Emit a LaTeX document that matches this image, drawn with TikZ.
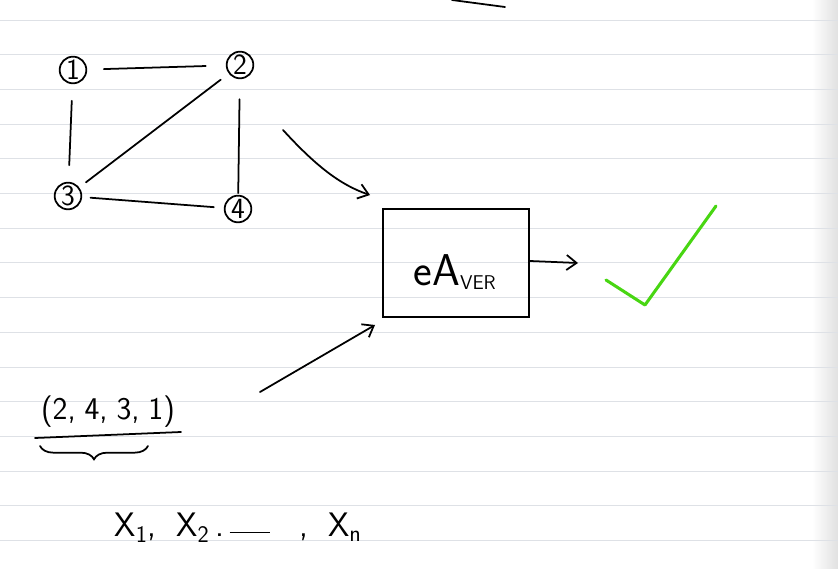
\documentclass[tikz,border=0pt]{standalone}
\usepackage{xcolor}
\usetikzlibrary{arrows.meta, positioning, decorations.pathreplacing}
\definecolor{rulegray}{RGB}{222,225,230}
\definecolor{checkgreen}{RGB}{72,214,18}

\begin{document}
\begin{tikzpicture}[x=0.03cm, y=-0.03cm, line width=1.5pt, line cap=round,
  font=\sffamily,
  vertex/.style={circle, draw, inner sep=0pt, minimum size=0.8cm, font=\sffamily\fontsize{25}{25}\selectfont},
  hand/.style={-{Straight Barb[length=3mm, width=4.5mm]}}]
  \useasboundingbox (0,0) rectangle (838,569);
  % ruled paper
  \fill[white] (0,0) rectangle (838,569);
  \shade[left color=white, right color=black!12] (812,0) rectangle (838,569);
  \foreach \i in {0,...,15}
    \draw[rulegray, line width=0.8pt] (0,20+34.7*\i) -- (838,20+34.7*\i);
  \draw (452,0) -- (505,7);

  % graph
  \node[vertex] (n1) at (73,70) {1};
  \node[vertex] (n2) at (240,65) {2};
  \node[vertex] (n3) at (68,196) {3};
  \node[vertex] (n4) at (238,209) {4};
  \draw[shorten <=0.5cm, shorten >=0.6cm] (n1) -- (n2);
  \draw[shorten <=0.5cm, shorten >=0.5cm] (n1) -- (n3);
  \draw[shorten <=0.6cm, shorten >=0.05cm] (n2) -- (n4);
  \draw[shorten <=0.3cm, shorten >=0.25cm] (n2) -- (n3);
  \draw[shorten <=0.25cm, shorten >=0.3cm] (n3) -- (n4);

  % verifier
  \node[draw, minimum width=4.4cm, minimum height=3.25cm] (ver) at (456,263) {};
  \node (verlabel) at (455,272) {\fontsize{38}{38}\selectfont eA\textsubscript{\fontsize{17}{17}\selectfont VER}};
  \coordinate (graphout) at (283,130);
  \coordinate (verin) at (370,195);
  \draw[hand] (graphout) .. controls (315,165) and (340,185) .. (verin);
  \coordinate (verout) at (578,263);
  \draw[hand] (ver.east |- verout) ++(0,-2) -- (verout);

  % accept
  \coordinate (ck1) at (606,280);
  \coordinate (ck2) at (645,305);
  \coordinate (ck3) at (716,206);
  \draw[checkgreen, line width=2.6pt, line join=round] (ck1) -- (ck2) -- (ck3);

  % certificate
  \node (cert) at (108,412) {\fontsize{27}{27}\selectfont (2,\;4,\;3,\;1)};
  \coordinate (certout) at (260,392);
  \coordinate (certin) at (375,325);
  \draw[hand] (certout) -- (certin);
  \draw (35,438) -- (181,432);
  \draw[decorate, decoration={brace, mirror, amplitude=0.4cm}] (40,446) -- (148,446);

  % inputs
  \node (inputs) at (238,528) {\fontsize{29}{29}\selectfont X\textsubscript{1},\; X\textsubscript{2}\,.\,\rule[0.25ex]{1.2cm}{1.3pt}\;\; ,\; X\textsubscript{n}};
\end{tikzpicture}
\end{document}
